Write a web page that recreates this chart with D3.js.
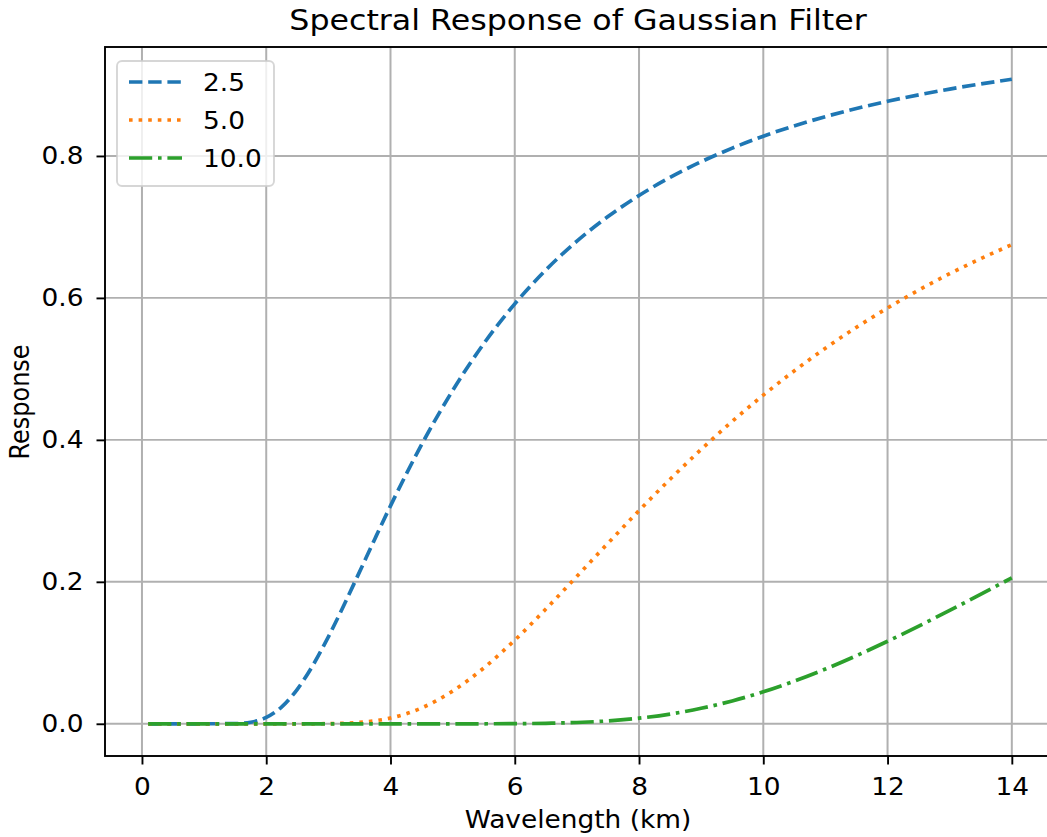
<!DOCTYPE html>
<html lang="en">
<head>
<meta charset="utf-8">
<title>Spectral Response of Gaussian Filter</title>
<script src="https://d3js.org/d3.v7.min.js"></script>
<style>
  body { margin: 0; background: #fff; }
  text { font-family: "DejaVu Sans", sans-serif; fill: #000; }
</style>
</head>
<body>
<div id="chart"></div>
<script>
  // values
  var wavelengths = [0.1, 0.5, 1, 1.5, 1.75, 2, 2.25, 2.5, 2.75, 3, 3.25, 3.5, 3.75, 4, 4.5, 5, 5.5, 6,
    6.5, 7, 7.5, 8, 8.5, 9, 9.5, 10, 11, 12, 13, 14];
  var resp25 = [0, 0, 0, 0.0002, 0.0021, 0.0089, 0.0239, 0.0486, 0.0822, 0.1225, 0.167, 0.2137, 0.2608, 0.307,
    0.3932, 0.4695, 0.5354, 0.5916, 0.6394, 0.680, 0.7146, 0.7443, 0.7698, 0.7919, 0.811, 0.8278,
    0.8554, 0.877, 0.8942, 0.9081];
  var resp50 = [0, 0, 0, 0, 0, 0, 0, 0, 0, 0.0002, 0.0007, 0.0019, 0.0042, 0.0081, 0.0223, 0.046, 0.0785,
    0.1178, 0.1616, 0.2078, 0.2544, 0.3003, 0.3445, 0.3865, 0.4261, 0.463, 0.5292, 0.5858, 0.6341, 0.6751];
  var resp100 = [0, 0, 0, 0, 0, 0, 0, 0, 0, 0, 0, 0, 0, 0, 0, 0, 0, 0.0002, 0.0007, 0.0018, 0.004, 0.0079,
    0.0137, 0.0218, 0.0322, 0.045, 0.0771, 0.1162, 0.1597, 0.2056];
  var seriesNames = ["2.5", "5.0", "10.0"];
  var xTicks = [0, 2, 4, 6, 8, 10, 12, 14];
  var yTicks = [0.0, 0.2, 0.4, 0.6, 0.8];

  var W = 1047, H = 837;
  var plotL = 105, plotR = 1055, plotT = 47, plotB = 756;
  var sx = 1.1; // text in the reference is a bit wider than tall

  var svg = d3.select("#chart").append("svg")
    .attr("width", W).attr("height", H);

  var x = d3.scaleLinear().domain([-0.595, 14.695]).range([plotL, plotR]);
  var y = d3.scaleLinear().domain([-0.0454, 0.9535]).range([plotB, plotT]);

  // grid
  var grid = svg.append("g");
  grid.selectAll(".vx").data(xTicks).enter().append("line")
    .attr("x1", function (d) { return x(d); }).attr("x2", function (d) { return x(d); })
    .attr("y1", plotT).attr("y2", plotB)
    .attr("stroke", "#b0b0b0").attr("stroke-width", 2);
  grid.selectAll(".hy").data(yTicks).enter().append("line")
    .attr("y1", function (d) { return y(d); }).attr("y2", function (d) { return y(d); })
    .attr("x1", plotL).attr("x2", plotR)
    .attr("stroke", "#b0b0b0").attr("stroke-width", 1.9);

  var colors = ["#1f77b4", "#ff7f0e", "#2ca02c"];
  var dashes = ["13.4,5.8", "3.6,6", "23.2,5.8,3.6,5.8"];
  var series = [resp25, resp50, resp100].map(function (vals, i) {
    return { name: seriesNames[i], values: vals.map(function (v, j) { return [wavelengths[j], v]; }) };
  });

  var line = d3.line()
    .x(function (d) { return x(d[0]); })
    .y(function (d) { return y(d[1]); })
    .curve(d3.curveMonotoneX);

  svg.append("g").selectAll("path").data(series).enter().append("path")
    .attr("d", function (d) { return line(d.values); })
    .attr("fill", "none")
    .attr("stroke", function (d, i) { return colors[i]; })
    .attr("stroke-width", 3.7)
    .attr("stroke-dasharray", function (d, i) { return dashes[i]; });

  // axes
  var xAxis = d3.axisBottom(x).tickValues(xTicks).tickSize(8.5).tickPadding(13)
    .tickFormat(d3.format("d"));
  var gx = svg.append("g").attr("transform", "translate(0," + plotB + ")").call(xAxis);
  var yAxis = d3.axisLeft(y).tickValues(yTicks).tickSize(8.5).tickPadding(13)
    .tickFormat(d3.format(".1f"));
  var gy = svg.append("g").attr("transform", "translate(" + plotL + ",0)").call(yAxis);
  [gx, gy].forEach(function (g) {
    g.select(".domain").remove();
    g.selectAll(".tick line").attr("stroke", "#000").attr("stroke-width", 1.9);
    g.selectAll(".tick text").each(function () {
      var t = d3.select(this);
      var tx = +t.attr("x") || 0, ty = +t.attr("y") || 0;
      t.attr("x", 0).attr("y", 0)
        .attr("transform", "translate(" + tx + "," + ty + ") scale(" + sx + ",1)")
        .style("font-family", "DejaVu Sans").style("font-size", "24px").attr("fill", "#000");
    });
  });

  // spines
  svg.append("rect")
    .attr("x", plotL).attr("y", plotT).attr("width", plotR - plotL).attr("height", plotB - plotT)
    .attr("fill", "none").attr("stroke", "#000").attr("stroke-width", 1.9);

  function label(px, py, str, size, extra) {
    return svg.append("text")
      .attr("transform", "translate(" + px + "," + py + ") scale(" + sx + ",1)" + (extra || ""))
      .attr("text-anchor", "middle").style("font-size", size + "px").text(str);
  }
  label(578, 29.5, "Spectral Response of Gaussian Filter", 28.8);
  label(578, 828, "Wavelength (km)", 24);
  label(29, 402, "Response", 24, " rotate(-90)");

  // legend
  var lg = svg.append("g");
  lg.append("rect").attr("x", 117).attr("y", 61).attr("width", 157).attr("height", 125)
    .attr("rx", 5).attr("fill", "#fff").attr("fill-opacity", 0.8)
    .attr("stroke", "#cccccc").attr("stroke-opacity", 0.8).attr("stroke-width", 1.9);
  series.forEach(function (s, i) {
    var cy = 82 + i * 38;
    lg.append("line").attr("x1", 129).attr("x2", 182).attr("y1", cy).attr("y2", cy)
      .attr("stroke", colors[i]).attr("stroke-width", 3.7).attr("stroke-dasharray", dashes[i]);
    lg.append("text")
      .attr("transform", "translate(203," + (cy + 8.7) + ") scale(" + sx + ",1)")
      .style("font-size", "24px").text(s.name);
  });
</script>
</body>
</html>
